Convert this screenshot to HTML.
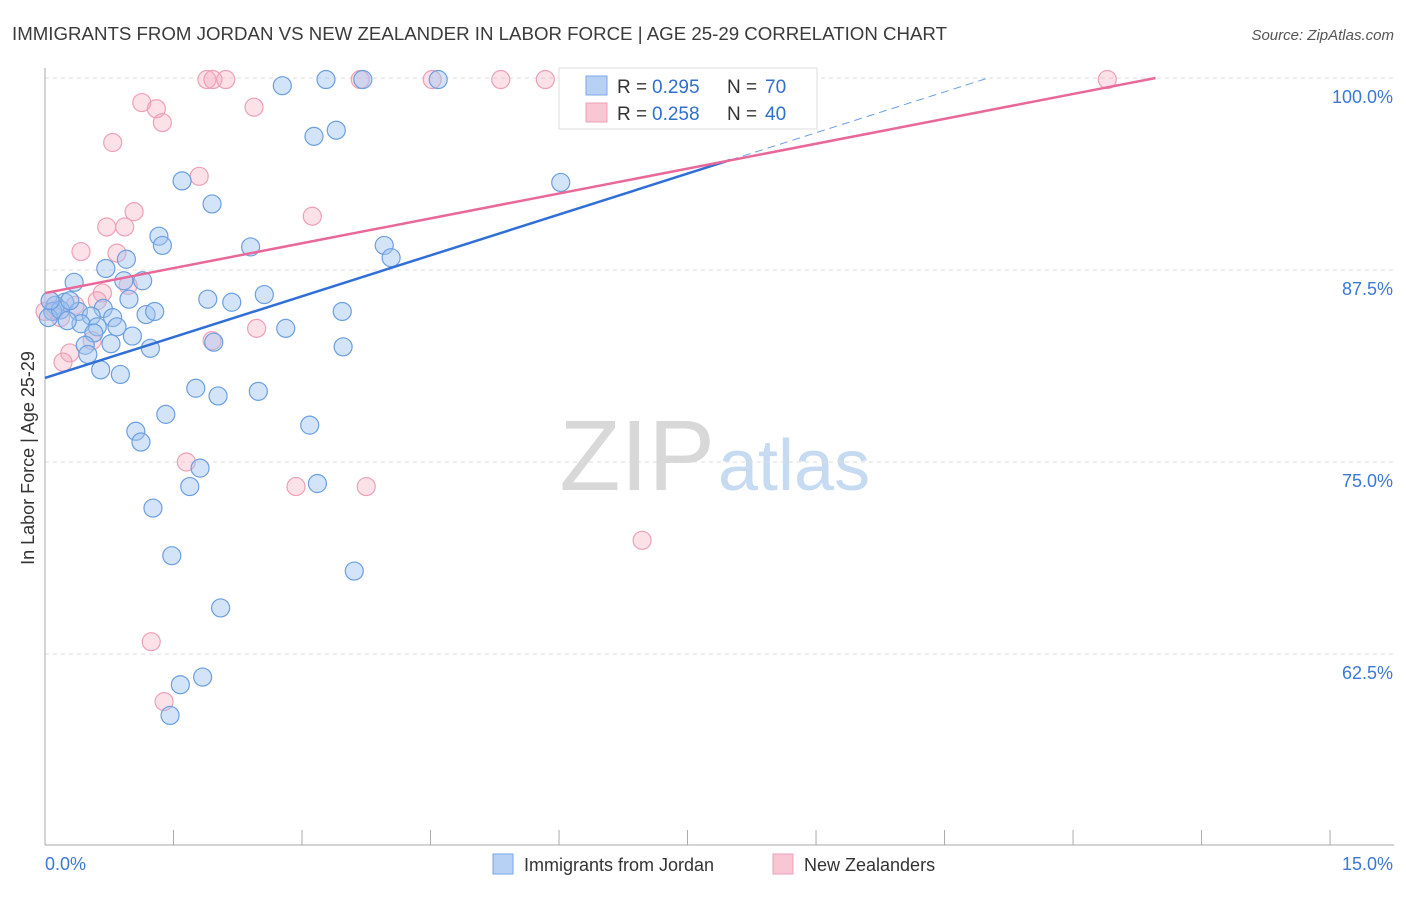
<!DOCTYPE html>
<html><head><meta charset="utf-8"><style>
body{margin:0;background:#fff;font-family:"Liberation Sans",sans-serif;}
svg text{font-family:"Liberation Sans",sans-serif;}
</style></head><body>
<svg id="chart" width="1406" height="892">
<text x="12" y="40" font-size="18" fill="#3a3a3a" textLength="935" lengthAdjust="spacingAndGlyphs">IMMIGRANTS FROM JORDAN VS NEW ZEALANDER IN LABOR FORCE | AGE 25-29 CORRELATION CHART</text>
<text x="1394" y="40" font-size="15" fill="#555" text-anchor="end" font-style="italic">Source: ZipAtlas.com</text>
<text x="715" y="490" font-size="100" fill="#d8d8d8" text-anchor="end" font-family="Liberation Serif,serif">ZIP</text>
<text x="718" y="490" font-size="72" fill="#c6daf2">atlas</text>
<text x="34" y="458" font-size="18" fill="#333" text-anchor="middle" transform="rotate(-90 34 458)">In Labor Force | Age 25-29</text>
<g id="grid"></g><g id="axes"></g><g id="pts"></g><g id="lines"></g>
<g>
<rect x="559" y="68" width="258" height="61" fill="#fff" stroke="#ddd"/>
<rect x="586" y="76" width="21" height="19" fill="#b7d1f5" stroke="#7aa7e6"/>
<rect x="586" y="103" width="21" height="19" fill="#f9c6d4" stroke="#eea0b5"/>
<text y="93" font-size="19" fill="#333"><tspan x="617">R = </tspan><tspan x="652" fill="#2f6fce">0.295</tspan><tspan x="727">N = </tspan><tspan x="765" fill="#2f6fce">70</tspan></text>
<text y="120" font-size="19" fill="#333"><tspan x="617">R = </tspan><tspan x="652" fill="#2f6fce">0.258</tspan><tspan x="727">N = </tspan><tspan x="765" fill="#2f6fce">40</tspan></text>
</g>
<g>
<rect x="493" y="854" width="20" height="20" fill="#b7d1f5" stroke="#7aa7e6"/>
<text x="524" y="871" font-size="18" fill="#333">Immigrants from Jordan</text>
<rect x="773" y="854" width="20" height="20" fill="#f9c6d4" stroke="#eea0b5"/>
<text x="804" y="871" font-size="18" fill="#333">New Zealanders</text>
</g>
</svg>
<script>
const blueX=[2.77,3.28,3.71,4.59,7.68,3.14,3.40,1.60,1.95,6.02,1.33,1.37,2.40,3.96,4.04,0.71,0.95,0.92,1.14,0.34,1.90,2.18,2.56,0.98,0.68,0.23,0.12,0.09,0.39,0.54,0.79,1.18,1.28,3.47,0.42,0.61,0.84,0.57,1.02,2.81,1.97,0.77,0.47,1.23,3.48,0.50,0.65,0.88,1.76,2.02,2.49,1.41,3.09,1.06,1.12,1.81,1.69,3.18,1.26,1.48,3.61,2.05,1.58,1.84,1.46,0.04,0.18,0.29,0.06,0.26];
const blueY=[99.5,99.9,99.9,99.9,99.9,96.2,96.6,93.3,91.8,93.2,89.7,89.1,89.0,89.1,88.3,87.6,88.2,86.8,86.8,86.7,85.6,85.4,85.9,85.6,85.0,85.4,85.2,84.8,84.8,84.5,84.4,84.6,84.8,84.8,84.0,83.8,83.8,83.4,83.2,83.7,82.8,82.7,82.6,82.4,82.5,82.0,81.0,80.7,79.8,79.3,79.6,78.1,77.4,77.0,76.3,74.6,73.4,73.6,72.0,68.9,67.9,65.5,60.5,61.0,58.5,84.4,84.9,85.5,85.5,84.2];
const pinkX=[1.89,1.96,2.11,3.68,4.52,5.32,5.84,7.69,12.40,1.13,1.30,1.37,2.44,0.79,1.80,3.12,1.04,0.72,0.93,0.42,0.84,0.67,0.61,0.97,0.06,0.12,0.0,0.18,1.95,2.47,0.55,0.29,0.21,1.65,2.93,3.75,6.97,1.24,1.39,0.35];
const pinkY=[99.9,99.9,99.9,99.9,99.9,99.9,99.9,99.9,99.9,98.4,98.0,97.1,98.1,95.8,93.6,91.0,91.3,90.3,90.3,88.7,88.6,86.0,85.5,86.5,85.5,84.9,84.8,84.4,82.9,83.7,82.9,82.1,81.5,75.0,73.4,73.4,69.9,63.3,59.4,85.2];
const yTicks=[100,87.5,75,62.5];
const yTickLabels=["100.0%","87.5%","75.0%","62.5%"];
const blueLine=[80.47,1.774];
const pinkLine=[86.0,1.08];
const NS="http://www.w3.org/2000/svg";
const sx=v=>45+v*85.67, sy=v=>78+(100-v)*15.36;
function mk(t,a,p){const e=document.createElementNS(NS,t);for(const k in a)e.setAttribute(k,a[k]);p.appendChild(e);return e;}
const grid=document.getElementById('grid'),axes=document.getElementById('axes'),pts=document.getElementById('pts'),lines=document.getElementById('lines');
yTicks.forEach((v,i)=>{
 const g=mk('line',{x1:45,x2:1394,y1:sy(v),y2:sy(v),stroke:'#ddd','stroke-dasharray':'4,4'},grid);
 
 
 const t=mk('text',{x:1393,y:sy(v)+25,'font-size':18,fill:'#3a78d6','text-anchor':'end'},axes);
 t.textContent=yTickLabels[i];
 
 
});
mk('line',{x1:45,x2:45,y1:68,y2:845,stroke:'#aaa'},axes);
mk('line',{x1:45,x2:1394,y1:845,y2:845,stroke:'#aaa'},axes);
for(let i=1;i<=10;i++){const l=mk('line',{x1:sx(i*1.5),x2:sx(i*1.5),y1:830,y2:845,stroke:'#aaa'},axes);
 
 }
let t0=mk('text',{x:45,y:870,'font-size':18,fill:'#3a78d6'},axes);t0.textContent='0.0%';


let t1=mk('text',{x:1393,y:870,'font-size':18,fill:'#3a78d6','text-anchor':'end'},axes);t1.textContent='15.0%';


pinkX.forEach((x,i)=>{const c=mk('circle',{cx:sx(x),cy:sy(pinkY[i]),r:9,fill:'rgba(245,170,192,0.35)',stroke:'#eea0b5','stroke-width':1.2},pts);
 
 });
blueX.forEach((x,i)=>{const c=mk('circle',{cx:sx(x),cy:sy(blueY[i]),r:9,fill:'rgba(160,195,240,0.45)',stroke:'#6b9fe0','stroke-width':1.2},pts);
 
 });
const bxEnd=(100-blueLine[0])/blueLine[1];
let bl=mk('line',{x1:sx(0),y1:sy(blueLine[0]),x2:sx(8),y2:sy(blueLine[0]+8*blueLine[1]),stroke:'#2f6fd6','stroke-width':2.5},lines);


let bd=mk('line',{x1:sx(8),y1:sy(blueLine[0]+8*blueLine[1]),x2:sx(bxEnd),y2:sy(100),stroke:'#6b9fe0','stroke-width':1,'stroke-dasharray':'8,5'},lines);


const pxEnd=(100-pinkLine[0])/pinkLine[1];
let pl=mk('line',{x1:sx(0),y1:sy(pinkLine[0]),x2:sx(pxEnd),y2:sy(100),stroke:'#e8689a','stroke-width':2.5},lines);


</script>
</body></html>
